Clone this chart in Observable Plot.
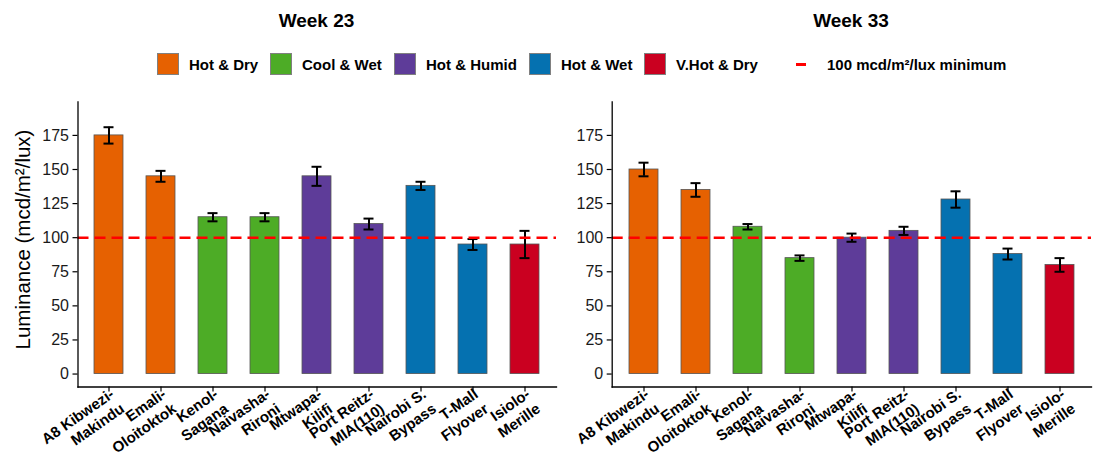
<!DOCTYPE html>
<html><head><meta charset="utf-8">
<script src="https://cdn.jsdelivr.net/npm/d3@7"></script>
<script src="https://cdn.jsdelivr.net/npm/@observablehq/plot@0.6"></script>
<style>
body{margin:0;background:#fff;font-family:"Liberation Sans",Arial,sans-serif;}
#wrap{position:relative;width:1093px;height:458px;overflow:hidden;background:#fff;}
#header{position:absolute;left:0;top:0;width:1093px;height:100px;}
.title{position:absolute;top:11.4px;font-weight:bold;font-size:19px;line-height:19px;transform:translateX(-50%);white-space:nowrap;color:#000;}
.key{position:absolute;top:53px;width:22px;height:22px;box-sizing:border-box;border:1px solid #808080;}
.lab{position:absolute;top:57.2px;font-weight:bold;font-size:15px;line-height:15px;white-space:nowrap;color:#000;}
.dash{position:absolute;top:63px;width:10px;height:3px;background:#ff0000;}
#left{position:absolute;left:0;top:100px;}
#right{position:absolute;left:560px;top:100px;}
svg{overflow:visible}
</style>
</head><body>
<div id="wrap">
  <div id="header"></div>
  <div id="left"></div>
  <div id="right"></div>
</div>
<script>
const sites = ["A8 Kibwezi-Makindu","Emali-Oloitoktok","Kenol-Sagana","Naivasha-Rironi","Mtwapa-Kilifi","Port Reitz-MIA(110)","Nairobi S. Bypass","T-Mall Flyover","Isiolo-Merille"];
const tickLabels = ["A8 Kibwezi-\nMakindu","Emali-\nOloitoktok","Kenol-\nSagana","Naivasha-\nRironi","Mtwapa-\nKilifi","Port Reitz-\nMIA(110)","Nairobi S.\nBypass","T-Mall\nFlyover","Isiolo-\nMerille"];
const climates = ["Hot & Dry","Hot & Dry","Cool & Wet","Cool & Wet","Hot & Humid","Hot & Humid","Hot & Wet","Hot & Wet","V.Hot & Dry"];
const climateOrder = ["Hot & Dry","Cool & Wet","Hot & Humid","Hot & Wet","V.Hot & Dry"];
const climateColors = ["#E66101","#4DAC26","#5E3C99","#0571B0","#CA0020"];
const week23 = [175,145,115,115,145,110,138,95,95];
const week23err = [6,4,3,3,7,4,3,4,10];
const week33 = [150,135,108,85,100,105,128,88,80];
const week33err = [5,5,2,2,3,3,6,4,5];
const yTicks = [0,25,50,75,100,125,150,175];
const yDomain = [-9.5,199.5];
const threshold = 100;
const titles = ["Week 23","Week 33"];
const yLabel = "Luminance (mcd/m²/lux)";
const thresholdLabel = "100 mcd/m²/lux minimum";

// header: titles + legend
const header = document.getElementById("header");
[[titles[0],316.5],[titles[1],851]].forEach(([t,cx])=>{
  const d=document.createElement("div");d.className="title";d.style.left=cx+"px";d.textContent=t;header.appendChild(d);
});
const keyLeft=[157,270,394,529,644], labLeft=[189,302,426,561,676];
climateOrder.forEach((c,i)=>{
  const k=document.createElement("div");k.className="key";k.style.left=keyLeft[i]+"px";k.style.background=climateColors[i];header.appendChild(k);
  const l=document.createElement("div");l.className="lab";l.style.left=labLeft[i]+"px";l.textContent=c;header.appendChild(l);
});
{const d=document.createElement("div");d.className="dash";d.style.left="796px";header.appendChild(d);
 const l=document.createElement("div");l.className="lab";l.style.left="827px";l.textContent=thresholdLabel;header.appendChild(l);}

function panel(values, errs, opts){
  const data = sites.map((s,i)=>({site:s, climate:climates[i], value:values[i], lo:values[i]-errs[i], hi:values[i]+errs[i]}));
  const marks = [
    Plot.barY(data,{x:"site",y:"value",fill:"climate",stroke:"#555555",strokeWidth:0.8}),
    Plot.ruleX(data,{x:"site",y1:"lo",y2:"hi",stroke:"#000",strokeWidth:2}),
    Plot.tickY(data,{x:"site",y:"lo",stroke:"#000",strokeWidth:2,insetLeft:9.5,insetRight:9.5}),
    Plot.tickY(data,{x:"site",y:"hi",stroke:"#000",strokeWidth:2,insetLeft:9.5,insetRight:9.5}),
    Plot.ruleY([threshold],{stroke:"#ff0000",strokeWidth:2.6,strokeDasharray:"11,6"}),
    Plot.axisY({ticks:yTicks,tickSize:5,tickPadding:4,fontSize:16,label:null,stroke:"#000",strokeWidth:1.2,fill:"#1a1a1a"}),
    Plot.axisX({tickSize:5,label:null,stroke:"#000",strokeWidth:1.2,text:null}),
    Plot.axisX({tickSize:0,tickPadding:12,dx:8,tickRotate:-35,tickFormat:d=>tickLabels[sites.indexOf(d)],fontSize:15,fontWeight:"bold",lineHeight:1.2,label:null,fill:"#000"}),
    Plot.frame({anchor:"left",stroke:"#000",strokeWidth:1.3}),
    Plot.frame({anchor:"bottom",stroke:"#000",strokeWidth:1.3})
  ];
  if (opts.yLabel) marks.push(Plot.text([opts.yLabel],{frameAnchor:"left",text:d=>d,dx:-55,dy:-5,rotate:-90,textAnchor:"middle",lineAnchor:"middle",fontSize:20.5,fill:"#000"}));
  return Plot.plot({
    width:opts.width, height:358,
    marginLeft:opts.marginLeft, marginRight:opts.marginRight, marginTop:1.5, marginBottom:71.5,
    style:{fontFamily:"Liberation Sans, Arial, sans-serif",fontSize:"16px",color:"#000",background:"transparent"},
    x:{domain:sites,paddingInner:0.45,paddingOuter:0.325,align:0.5},
    y:{domain:yDomain},
    color:{domain:climateOrder,range:climateColors},
    marks
  });
}
document.getElementById("left").appendChild(panel(week23,week23err,{width:560,marginLeft:77.5,marginRight:4,yLabel}));
document.getElementById("right").appendChild(panel(week33,week33err,{width:533,marginLeft:51.7,marginRight:2}));
</script>
</body></html>
